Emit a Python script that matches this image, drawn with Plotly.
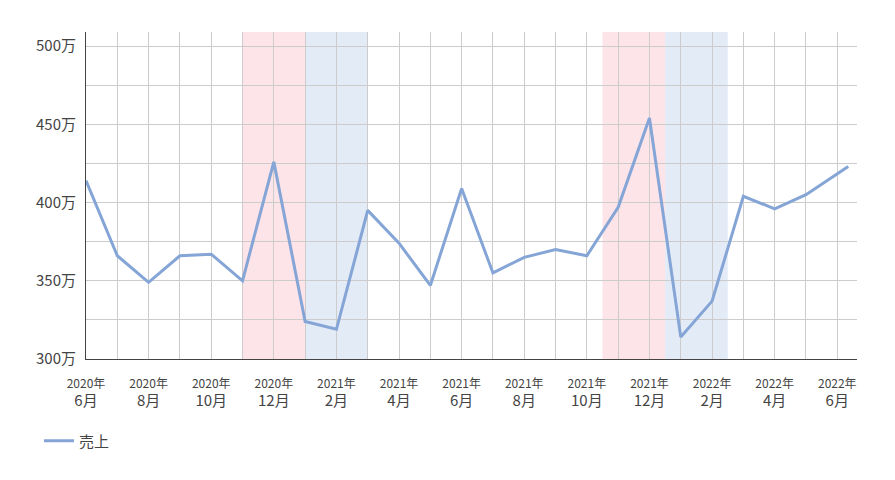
import plotly.graph_objects as go

# month positions (0 = 2020-06); last observation sits slightly after June 2022
x_pos = [0, 1, 2, 3, 4, 5, 6, 7, 8, 9, 10, 11, 12, 13, 14, 15, 16, 17, 18, 19, 20, 21, 22, 23, 24.35]
sales = [414, 366, 349, 366, 367, 350, 426, 324, 319, 395, 374, 347, 409, 355, 365, 370,
         366, 397, 454, 314, 337, 404, 396, 405, 423]

tick_years = ["2020年", "2020年", "2020年", "2020年", "2021年", "2021年", "2021年", "2021年",
              "2021年", "2021年", "2022年", "2022年", "2022年"]
tick_months = ["6月", "8月", "10月", "12月", "2月", "4月", "6月", "8月", "10月", "12月", "2月", "4月", "6月"]

y_ticks = [300, 325, 350, 375, 400, 425, 450, 475, 500]
y_labels = ["300万", "", "350万", "", "400万", "", "450万", "", "500万"]

pink_bands = [(5, 7), (16.5, 18.5)]
blue_bands = [(7, 9), (18.5, 20.5)]

x_tickvals = list(range(25))
x_ticktext = []
for i in x_tickvals:
    if i % 2 == 0:
        k = i // 2
        x_ticktext.append(f"<span style='font-size:12px'>{tick_years[k]}</span><br>"
                          f"<span style='font-size:15px'>{tick_months[k]}</span>")
    else:
        x_ticktext.append("")

fig = go.Figure()
fig.add_trace(go.Scatter(x=x_pos, y=sales, mode="lines", name="売上",
                         line=dict(color="#84a5d6", width=3)))

shapes = []
for a, b in pink_bands:
    shapes.append(dict(type="rect", xref="x", yref="paper", x0=a, x1=b, y0=0, y1=1,
                       fillcolor="#fde4e8", line=dict(width=0), layer="below"))
for a, b in blue_bands:
    shapes.append(dict(type="rect", xref="x", yref="paper", x0=a, x1=b, y0=0, y1=1,
                       fillcolor="#e3ebf6", line=dict(width=0), layer="below"))

fig.update_layout(
    width=895, height=480,
    margin=dict(l=78, r=46, t=24, b=129),
    plot_bgcolor="white", paper_bgcolor="white",
    font=dict(family="Noto Sans CJK JP", color="#444444", size=13),
    shapes=shapes,
    showlegend=True,
    legend=dict(orientation="h", x=-0.061, xanchor="left", y=-0.2, yanchor="top",
                font=dict(size=15, color="#444444")),
    xaxis=dict(range=[0, 24.63], tickmode="array", tickvals=x_tickvals, ticktext=x_ticktext,
               showgrid=True, gridcolor="#cccccc", gridwidth=1, zeroline=False,
               showline=True, linecolor="#444444", linewidth=1, ticks="",
               tickfont=dict(size=14),
               ticklabelstandoff=11, automargin=False),
    yaxis=dict(range=[300, 509], tickmode="array", tickvals=y_ticks, ticktext=y_labels,
               showgrid=True, gridcolor="#cccccc", gridwidth=1, zeroline=False,
               showline=True, linecolor="#444444", linewidth=1, ticks="",
               tickfont=dict(size=15), ticklabelstandoff=6, automargin=False),
)

fig.write_html("out.html")
